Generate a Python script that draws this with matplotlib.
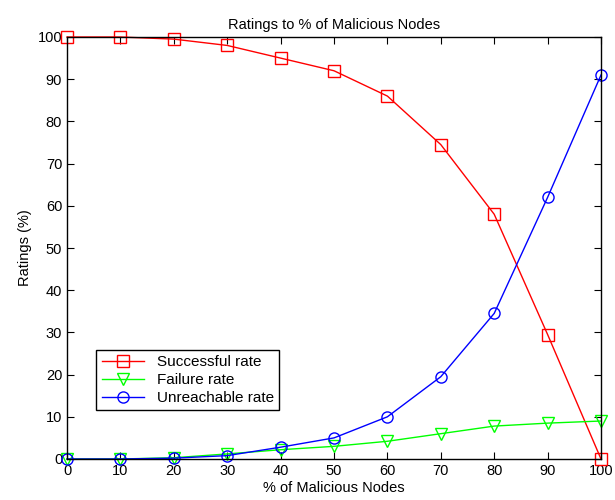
import matplotlib
matplotlib.use("Agg")
import matplotlib.pyplot as plt

plt.rcParams['font.family'] = ['Liberation Sans', 'DejaVu Sans']

nodes = [0, 10, 20, 30, 40, 50, 60, 70, 80, 90, 100]
successful = [100, 100, 99.5, 98, 95, 92, 86, 74.5, 58, 29.5, 0]
failure = [0, 0, 0.3, 1.2, 2.2, 3, 4.2, 6, 7.8, 8.5, 9]
unreachable = [0, 0, 0.2, 0.8, 2.8, 5, 10, 19.5, 34.5, 62, 91]

fig = plt.figure(figsize=(6.15, 5.0), dpi=100)
ax = fig.add_axes([67/615, 41/500, 534/615, 422/500])

ax.plot(nodes, successful, color='red', marker='s', markersize=8,
        markerfacecolor='none', linewidth=1, label='Successful rate', clip_on=False)
ax.plot(nodes, failure, color='#00ff00', marker='v', markersize=8,
        markerfacecolor='none', linewidth=1, label='Failure rate', clip_on=False)
ax.plot(nodes, unreachable, color='blue', marker='o', markersize=8,
        markerfacecolor='none', linewidth=1, label='Unreachable rate', clip_on=False)

ax.set_xlim(0, 100)
ax.set_ylim(0, 100)
ax.set_xticks(range(0, 101, 10))
ax.set_yticks(range(0, 101, 10))
ax.tick_params(direction='in', top=True, right=True, labelsize=10.5, length=5)
for sp in ax.spines.values():
    sp.set_linewidth(1)

ax.set_title('Ratings to % of Malicious Nodes', fontsize=10.5)
ax.set_xlabel('% of Malicious Nodes', fontsize=10.5, labelpad=2)
ax.set_ylabel('Ratings (%)', fontsize=10.5)

leg = ax.legend(loc='lower left', bbox_to_anchor=(0.055, 0.115), fontsize=11,
                fancybox=False, edgecolor='black', framealpha=1,
                borderaxespad=0, handlelength=2.8, labelspacing=0.25,
                borderpad=0.35)
leg.get_frame().set_linewidth(1)

fig.savefig('out.png', dpi=100)
